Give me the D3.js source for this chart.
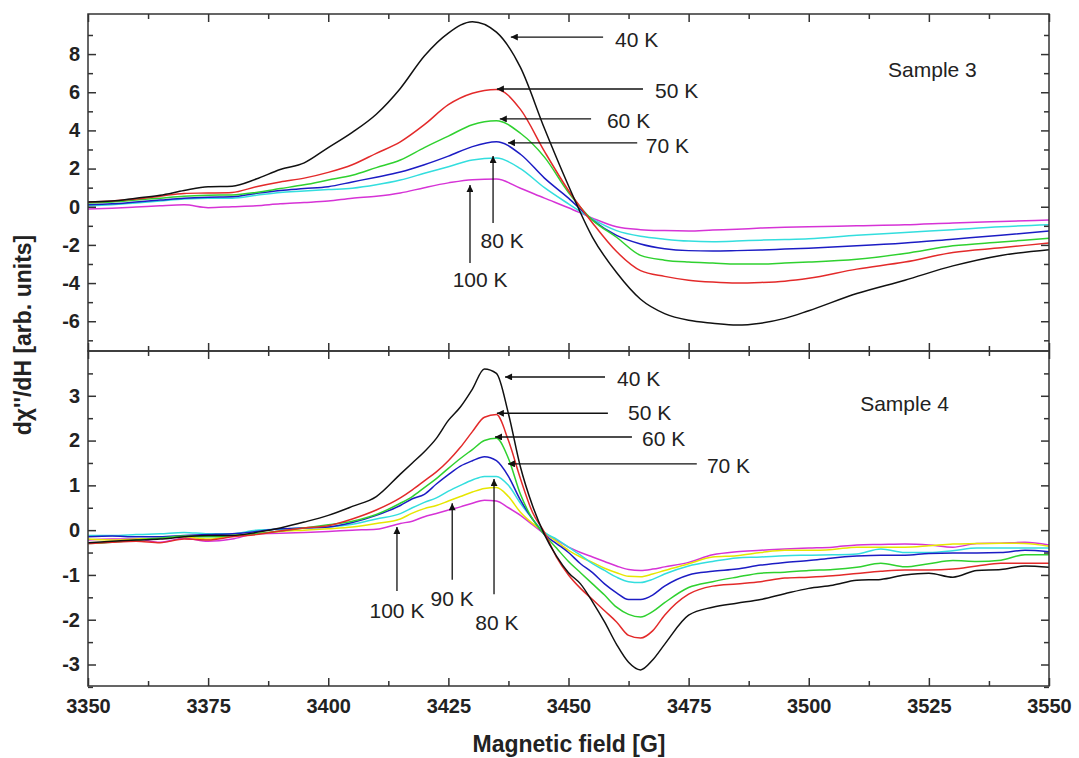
<!DOCTYPE html>
<html>
<head>
<meta charset="utf-8">
<script src="https://cdn.jsdelivr.net/npm/d3@7/dist/d3.min.js"></script>
<style>
	body { margin: 0; background: #fff; }
	svg { display: block; }
	.tick text { font-family: "Liberation Sans", Arial, sans-serif; font-weight: bold; font-size: 20px; fill: #222; }
	.tick line { stroke: #333; stroke-width: 1.5; }
	.note { font-family: "Liberation Sans", Arial, sans-serif; font-size: 21px; fill: #222; }
	.title { font-family: "Liberation Sans", Arial, sans-serif; font-weight: bold; font-size: 23px; fill: #222; }
</style>
</head>
<body>
<svg id="chart" width="1079" height="758"></svg>
<script>

// field grid for sample 3 (upper panel)
var fields3 = [3350, 3355, 3360, 3365, 3370, 3375, 3380, 3385, 3390, 3395, 3400, 3405, 3410, 3415, 3420, 3425, 3430, 3435,
	3440, 3445, 3450, 3455, 3460, 3465, 3470, 3475, 3480, 3485, 3490, 3495, 3500, 3510, 3520, 3530, 3540, 3550];

var s3_40K = [0.25, 0.3, 0.45, 0.6, 0.85, 1.05, 1.08, 1.45, 1.95, 2.3, 3.1, 3.9, 4.85, 6.2, 7.9, 9.1, 9.7, 9.15,
	7.3, 4.1, 1.1, -1.6, -3.45, -4.85, -5.6, -5.95, -6.1, -6.2, -6.1, -5.85, -5.45, -4.55, -3.85, -3.1, -2.55, -2.25];
var s3_50K = [0.25, 0.3, 0.4, 0.55, 0.7, 0.72, 0.75, 1.05, 1.3, 1.5, 1.8, 2.2, 2.8, 3.4, 4.3, 5.35, 5.95, 6.15,
	5.1, 2.9, 0.85, -0.85, -2.35, -3.35, -3.65, -3.85, -3.95, -4.0, -3.97, -3.9, -3.75, -3.27, -2.9, -2.4, -2.15, -1.9];
var s3_60K = [0.2, 0.25, 0.35, 0.45, 0.55, 0.6, 0.62, 0.75, 0.95, 1.15, 1.4, 1.65, 2.05, 2.45, 3.1, 3.7, 4.3, 4.5,
	3.85, 2.6, 0.75, -0.7, -1.6, -2.55, -2.8, -2.9, -2.95, -3.0, -3.0, -2.95, -2.9, -2.75, -2.45, -2.05, -1.85, -1.65];
var s3_70K = [0.1, 0.15, 0.25, 0.35, 0.45, 0.5, 0.52, 0.7, 0.85, 0.95, 1.05, 1.3, 1.55, 1.82, 2.2, 2.65, 3.15, 3.4,
	2.75, 1.5, 0.45, -0.7, -1.5, -1.95, -2.2, -2.3, -2.32, -2.3, -2.27, -2.22, -2.17, -2.05, -1.9, -1.7, -1.5, -1.27];
var s3_80K = [0.05, 0.1, 0.2, 0.3, 0.4, 0.45, 0.45, 0.6, 0.75, 0.82, 0.9, 0.97, 1.15, 1.4, 1.75, 2.1, 2.45, 2.55,
	2.0, 1.0, 0.15, -0.65, -1.25, -1.55, -1.7, -1.8, -1.83, -1.8, -1.75, -1.72, -1.68, -1.5, -1.35, -1.2, -1.05, -0.95];
var s3_100K = [-0.12, -0.08, -0.02, 0.05, 0.1, -0.05, 0.0, 0.05, 0.15, 0.22, 0.3, 0.45, 0.55, 0.72, 1.0, 1.25, 1.42, 1.45,
	0.97, 0.45, -0.05, -0.6, -1.05, -1.2, -1.25, -1.27, -1.22, -1.18, -1.12, -1.08, -1.05, -1.0, -0.95, -0.85, -0.77, -0.7];

// field grid for sample 4 (lower panel), finer around the line
var fields4 = [3350, 3355, 3360, 3365, 3370, 3375, 3380, 3385, 3390, 3395, 3400, 3405, 3410, 3415,
	3417.5, 3420, 3422.5, 3425, 3427.5, 3430, 3432.5, 3435, 3437.5, 3440, 3442.5, 3445, 3447.5, 3450, 3452.5, 3455,
	3457.5, 3460, 3462.5, 3465, 3467.5, 3470,
	3475, 3480, 3485, 3490, 3495, 3500, 3505, 3510, 3515, 3520, 3525, 3530, 3535, 3540, 3545, 3550];

var s4_40K = [-0.28, -0.25, -0.22, -0.2, -0.15, -0.12, -0.12, -0.05, 0.05, 0.18, 0.33, 0.53, 0.75, 1.25,
	1.5, 1.75, 2.05, 2.45, 2.75, 3.15, 3.6, 3.5, 2.6, 1.41, 0.55, -0.1, -0.58, -0.95, -1.2, -1.6,
	-2.05, -2.55, -2.95, -3.12, -2.9, -2.55,
	-1.9, -1.72, -1.63, -1.55, -1.42, -1.3, -1.23, -1.12, -1.1, -1.0, -0.96, -1.05, -0.9, -0.88, -0.8, -0.83];
var s4_50K = [-0.3, -0.27, -0.25, -0.28, -0.2, -0.22, -0.15, -0.1, -0.02, 0.05, 0.1, 0.25, 0.45, 0.72,
	0.9, 1.1, 1.3, 1.55, 1.85, 2.2, 2.52, 2.58, 2.0, 1.15, 0.4, -0.05, -0.6, -1.0, -1.3, -1.55,
	-1.8, -2.05, -2.35, -2.41, -2.25, -1.9,
	-1.43, -1.25, -1.2, -1.15, -1.07, -1.05, -1.02, -0.97, -0.92, -0.89, -0.89, -0.87, -0.8, -0.74, -0.74, -0.74];
var s4_60K = [-0.3, -0.27, -0.22, -0.18, -0.13, -0.15, -0.12, -0.08, -0.02, 0.05, 0.12, 0.2, 0.35, 0.6,
	0.75, 0.95, 1.15, 1.38, 1.6, 1.8, 2.0, 2.05, 1.6, 0.8, 0.25, -0.1, -0.4, -0.7, -0.95, -1.2,
	-1.45, -1.72, -1.88, -1.94, -1.82, -1.62,
	-1.28, -1.15, -1.05, -0.96, -0.94, -0.9, -0.88, -0.83, -0.74, -0.82, -0.75, -0.68, -0.7, -0.67, -0.55, -0.55];
var s4_70K = [-0.15, -0.13, -0.15, -0.15, -0.12, -0.1, -0.08, -0.03, 0.03, 0.05, 0.07, 0.17, 0.33, 0.55,
	0.7, 0.8, 1.03, 1.24, 1.43, 1.55, 1.64, 1.55, 1.2, 0.67, 0.25, -0.1, -0.3, -0.5, -0.75, -0.95,
	-1.2, -1.4, -1.55, -1.55, -1.45, -1.25,
	-1.0, -0.92, -0.87, -0.78, -0.72, -0.68, -0.62, -0.58, -0.56, -0.56, -0.52, -0.51, -0.51, -0.5, -0.45, -0.48];
var s4_80K = [-0.12, -0.12, -0.1, -0.08, -0.05, -0.08, -0.08, 0.0, 0.02, 0.05, 0.07, 0.13, 0.25, 0.37,
	0.5, 0.62, 0.72, 0.87, 1.0, 1.12, 1.2, 1.2, 1.0, 0.6, 0.25, -0.05, -0.2, -0.38, -0.56, -0.75,
	-0.9, -1.05, -1.15, -1.17, -1.1, -0.98,
	-0.8, -0.7, -0.62, -0.6, -0.57, -0.56, -0.55, -0.53, -0.42, -0.5, -0.5, -0.46, -0.4, -0.4, -0.4, -0.4];
var s4_90K = [-0.2, -0.22, -0.2, -0.18, -0.15, -0.2, -0.12, -0.08, -0.03, 0.0, 0.03, 0.07, 0.15, 0.25,
	0.38, 0.48, 0.55, 0.65, 0.75, 0.85, 0.93, 0.95, 0.75, 0.4, 0.15, -0.05, -0.25, -0.45, -0.6, -0.72,
	-0.85, -0.95, -1.03, -1.04, -0.98, -0.9,
	-0.75, -0.6, -0.57, -0.5, -0.45, -0.45, -0.43, -0.38, -0.38, -0.38, -0.35, -0.31, -0.3, -0.29, -0.3, -0.36];
var s4_100K = [-0.22, -0.2, -0.2, -0.27, -0.18, -0.25, -0.2, -0.08, -0.07, -0.05, -0.03, 0.0, 0.02, 0.15,
	0.2, 0.3, 0.37, 0.45, 0.52, 0.6, 0.67, 0.65, 0.5, 0.33, 0.12, -0.08, -0.22, -0.38, -0.5, -0.6,
	-0.7, -0.8, -0.88, -0.9, -0.87, -0.82,
	-0.72, -0.55, -0.48, -0.45, -0.42, -0.4, -0.38, -0.33, -0.32, -0.31, -0.33, -0.38, -0.3, -0.29, -0.27, -0.33];

var colors = { "40 K": "#111111", "50 K": "#e32a2a", "60 K": "#2fd12f", "70 K": "#1c1cc4",
	"80 K": "#33dede", "90 K": "#e6e600", "100 K": "#d633d6" };

var series3 = [
	{ name: "100 K", values: s3_100K }, { name: "80 K", values: s3_80K }, { name: "70 K", values: s3_70K },
	{ name: "60 K", values: s3_60K }, { name: "50 K", values: s3_50K }, { name: "40 K", values: s3_40K }
];
var series4 = [
	{ name: "100 K", values: s4_100K }, { name: "90 K", values: s4_90K }, { name: "80 K", values: s4_80K },
	{ name: "70 K", values: s4_70K }, { name: "60 K", values: s4_60K }, { name: "50 K", values: s4_50K },
	{ name: "40 K", values: s4_40K }
];

// arrows and labels, in data units (field, value)
var notes3 = [
	{ text: "40 K", from: [3457.2, 8.89], to: [3438.0, 8.89], at: [3459.7, 8.37], anchor: "start" },
	{ text: "50 K", from: [3465.5, 6.17], to: [3435.1, 6.17], at: [3468.0, 5.70], anchor: "start" },
	{ text: "60 K", from: [3454.7, 4.60], to: [3435.7, 4.60], at: [3458.0, 4.13], anchor: "start" },
	{ text: "70 K", from: [3464.3, 3.35], to: [3437.4, 3.35], at: [3466.1, 2.81], anchor: "start" },
	{ text: "80 K", from: [3434.3, -0.85], to: [3434.3, 2.66], at: [3436.2, -2.16], anchor: "middle" },
	{ text: "100 K", from: [3429.5, -2.95], to: [3429.5, 1.14], at: [3431.6, -4.21], anchor: "middle" }
];
var notes4 = [
	{ text: "40 K", from: [3457.6, 3.42], to: [3436.8, 3.42], at: [3460.1, 3.22], anchor: "start" },
	{ text: "50 K", from: [3458.2, 2.61], to: [3435.1, 2.61], at: [3462.4, 2.46], anchor: "start" },
	{ text: "60 K", from: [3463.2, 2.08], to: [3434.7, 2.08], at: [3465.3, 1.88], anchor: "start" },
	{ text: "70 K", from: [3476.7, 1.48], to: [3437.4, 1.48], at: [3478.8, 1.27], anchor: "start" },
	{ text: "80 K", from: [3434.5, -1.43], to: [3434.5, 1.14], at: [3435.1, -2.23], anchor: "middle" },
	{ text: "90 K", from: [3425.8, -1.11], to: [3425.8, 0.60], at: [3425.8, -1.69], anchor: "middle" },
	{ text: "100 K", from: [3414.3, -1.36], to: [3414.3, 0.07], at: [3414.3, -1.96], anchor: "middle" }
];


var svg = d3.select("#chart");

var x = d3.scaleLinear().domain([3350, 3550]).range([88, 1049]);

svg.append("defs").append("marker")
	.attr("id", "head")
	.attr("viewBox", "0 0 10 10")
	.attr("refX", 10)
	.attr("refY", 5)
	.attr("markerWidth", 11)
	.attr("markerHeight", 7)
	.attr("markerUnits", "userSpaceOnUse")
	.attr("orient", "auto")
	.append("path")
	.attr("d", "M0,0L10,5L0,10z")
	.attr("fill", "#111");


function drawPanel(fields, series, notes, y, majorY, minorY, sample, showX)
{
	var top = y.range()[1];
	var bottom = y.range()[0];
	var g = svg.append("g");

	var line = d3.line()
		.curve(d3.curveMonotoneX)
		.x(function(d) { return x(d[0]); })
		.y(function(d) { return y(d[1]); });

	g.selectAll(".curve")
		.data(series)
		.enter()
		.append("path")
		.attr("class", "curve")
		.attr("fill", "none")
		.attr("stroke-width", 1.5)
		.attr("stroke-linejoin", "round")
		.attr("stroke", function(d)
		{
			return colors[d.name];
		})
		.attr("d", function(d)
		{
			return line(d.values.map(function(v, i) { return [fields[i], v]; }));
		});

	var majorX = d3.range(3350, 3551, 25);
	var minorX = d3.range(3362.5, 3550, 25);
	var fmt = function(d) { return String(d); };

	// x ticks, pointing inward on both edges
	g.append("g").attr("transform", "translate(0," + bottom + ")")
		.call(d3.axisBottom(x).tickValues(majorX).tickSize(-8).tickPadding(13).tickFormat(showX ? fmt : ""));
	g.append("g").attr("transform", "translate(0," + bottom + ")")
		.call(d3.axisBottom(x).tickValues(minorX).tickSize(-5).tickFormat(""));
	g.append("g").attr("transform", "translate(0," + top + ")")
		.call(d3.axisTop(x).tickValues(majorX).tickSize(-8).tickFormat(""));
	g.append("g").attr("transform", "translate(0," + top + ")")
		.call(d3.axisTop(x).tickValues(minorX).tickSize(-5).tickFormat(""));

	// y ticks
	g.append("g").attr("transform", "translate(" + x.range()[0] + ",0)")
		.call(d3.axisLeft(y).tickValues(majorY).tickSize(-8).tickPadding(8).tickFormat(fmt));
	g.append("g").attr("transform", "translate(" + x.range()[0] + ",0)")
		.call(d3.axisLeft(y).tickValues(minorY).tickSize(-5).tickFormat(""));
	g.append("g").attr("transform", "translate(" + x.range()[1] + ",0)")
		.call(d3.axisRight(y).tickValues(majorY).tickSize(-8).tickFormat(""));
	g.append("g").attr("transform", "translate(" + x.range()[1] + ",0)")
		.call(d3.axisRight(y).tickValues(minorY).tickSize(-5).tickFormat(""));

	g.selectAll(".domain").remove();

	g.append("rect")
		.attr("x", x.range()[0])
		.attr("y", top)
		.attr("width", x.range()[1] - x.range()[0])
		.attr("height", bottom - top)
		.attr("fill", "none")
		.attr("stroke", "#333")
		.attr("stroke-width", 1.5);

	g.selectAll(".arrow")
		.data(notes)
		.enter()
		.append("line")
		.attr("class", "arrow")
		.attr("stroke", "#111")
		.attr("stroke-width", 1.3)
		.attr("marker-end", "url(#head)")
		.attr("x1", function(d) { return x(d.from[0]); })
		.attr("y1", function(d) { return y(d.from[1]); })
		.attr("x2", function(d) { return x(d.to[0]); })
		.attr("y2", function(d) { return y(d.to[1]); });

	g.selectAll(".note")
		.data(notes)
		.enter()
		.append("text")
		.attr("class", "note")
		.attr("text-anchor", function(d) { return d.anchor; })
		.attr("x", function(d) { return x(d.at[0]); })
		.attr("y", function(d) { return y(d.at[1]); })
		.text(function(d) { return d.text; });

	g.append("text")
		.attr("class", "note")
		.attr("x", x(sample.at[0]))
		.attr("y", y(sample.at[1]))
		.text(sample.text);
}

var y3 = d3.scaleLinear().domain([-7.56, 10.1]).range([351, 14]);
var y4 = d3.scaleLinear().domain([-3.48, 4.0]).range([686, 351]);

drawPanel(fields3, series3, notes3, y3, d3.range(-6, 9, 2), d3.range(-7, 10, 2),
	{ text: "Sample 3", at: [3516.5, 6.8] }, false);
drawPanel(fields4, series4, notes4, y4, d3.range(-3, 4, 1), d3.range(-3.5, 4, 0.5).filter(function(v) { return v % 1 !== 0; }),
	{ text: "Sample 4", at: [3510.7, 2.66] }, true);

svg.append("text")
	.attr("class", "title")
	.attr("text-anchor", "middle")
	.attr("x", 569)
	.attr("y", 752)
	.text("Magnetic field [G]");

svg.append("text")
	.attr("class", "title")
	.attr("text-anchor", "middle")
	.attr("transform", "translate(31,335) rotate(-90)")
	.text("d\u03c7''/dH [arb. units]");

</script>
</body>
</html>
